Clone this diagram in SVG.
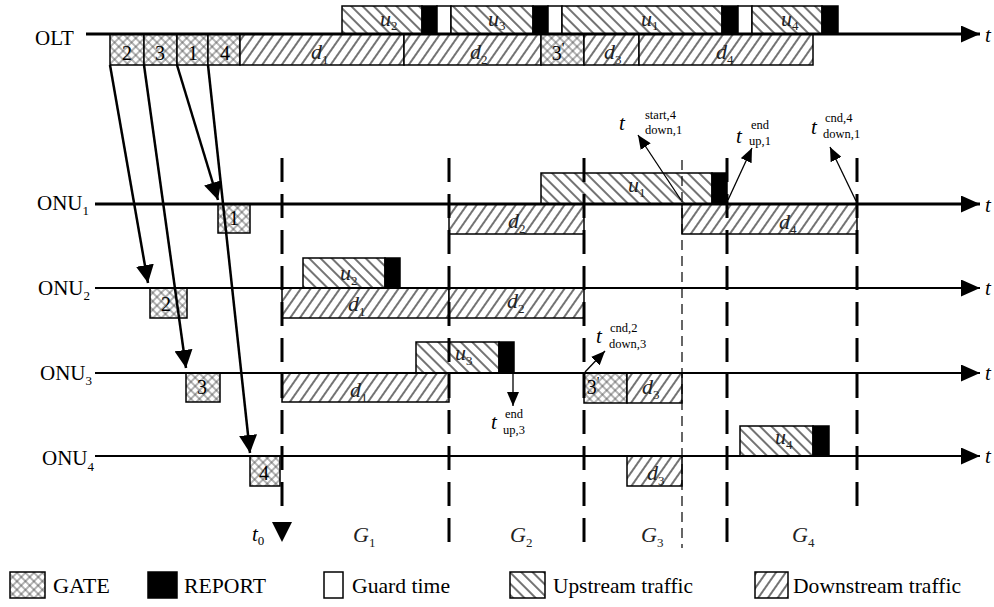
<svg xmlns="http://www.w3.org/2000/svg" width="994" height="607" viewBox="0 0 994 607">
<style>
.b{stroke:#000;stroke-width:1.5}
.up{fill:url(#up)}
.dn{fill:url(#dn)}
.gt{fill:url(#gate)}
.rp{fill:#000}
.gd{fill:#fff}
.ax{stroke:#000;fill:none}
text{font-family:"Liberation Serif","Times New Roman",serif;fill:#000}
.lab{font-size:21px}
.num{font-size:20px;text-anchor:middle}
.it{font-style:italic;font-size:22px;fill:#222}
.sub{font-style:normal;font-size:13px}
.t{font-style:italic;font-size:21px}
.ss{font-size:12.5px}
.leg{font-size:21px}
.pr{font-size:15px}
.dash{stroke:#000;stroke-width:3;stroke-dasharray:24 12;fill:none}
.thin{stroke:#000;stroke-width:1.2;stroke-dasharray:10 6;fill:none}
.ga{stroke:#000;stroke-width:2.5;fill:none;marker-end:url(#big)}
.ta{stroke:#000;stroke-width:1.3;fill:none;marker-end:url(#sm)}
</style>
<defs>
<pattern id="up" patternUnits="userSpaceOnUse" width="8" height="8" patternTransform="rotate(-45)"><rect width="8" height="8" fill="#fff"/><line x1="4" y1="0" x2="4" y2="8" stroke="#000" stroke-width="1.1"/></pattern>
<pattern id="dn" patternUnits="userSpaceOnUse" width="8" height="8" patternTransform="rotate(35)"><rect width="8" height="8" fill="#fff"/><line x1="4" y1="0" x2="4" y2="8" stroke="#000" stroke-width="1.1"/></pattern>
<pattern id="gate" patternUnits="userSpaceOnUse" width="6" height="6" patternTransform="rotate(45)"><rect width="6" height="6" fill="#fff"/><line x1="3" y1="0" x2="3" y2="6" stroke="#444" stroke-width="0.8"/><line x1="0" y1="3" x2="6" y2="3" stroke="#444" stroke-width="0.8"/></pattern>
<marker id="axa" markerUnits="userSpaceOnUse" markerWidth="19" markerHeight="17" refX="19" refY="8.5" orient="auto"><path d="M0,0 L19,8.5 L0,17 z" fill="#000"/></marker>
<marker id="big" markerUnits="userSpaceOnUse" markerWidth="18" markerHeight="18" refX="18" refY="9" orient="auto"><path d="M0,0 L18,9 L0,18 z" fill="#000"/></marker>
<marker id="sm" markerUnits="userSpaceOnUse" markerWidth="14" markerHeight="12" refX="14" refY="6" orient="auto"><path d="M0,0 L14,6 L0,12 z" fill="#000"/></marker>
</defs>
<rect width="994" height="607" fill="#fff"/>

<g id="olt">
<rect class="b up" x="342" y="6" width="80" height="28"/>
<rect class="b rp" x="422" y="6" width="15" height="28"/>
<rect class="b gd" x="437" y="6" width="14" height="28"/>
<rect class="b up" x="451" y="6" width="82" height="28"/>
<rect class="b rp" x="533" y="6" width="15" height="28"/>
<rect class="b gd" x="548" y="6" width="14" height="28"/>
<rect class="b up" x="562" y="6" width="160" height="28"/>
<rect class="b rp" x="722" y="6" width="16" height="28"/>
<rect class="b gd" x="738" y="6" width="14" height="28"/>
<rect class="b up" x="752" y="6" width="70" height="28"/>
<rect class="b rp" x="822" y="6" width="16" height="28"/>
<rect class="b gt" x="110" y="34" width="34" height="31"/>
<rect class="b gt" x="144" y="34" width="33" height="31"/>
<rect class="b gt" x="177" y="34" width="31" height="31"/>
<rect class="b gt" x="208" y="34" width="32" height="31"/>
<rect class="b dn" x="240" y="34" width="164" height="31"/>
<rect class="b dn" x="404" y="34" width="137" height="31"/>
<rect class="b gt" x="541" y="34" width="43" height="31"/>
<rect class="b dn" x="584" y="34" width="55" height="31"/>
<rect class="b dn" x="639" y="34" width="174" height="31"/>
<line class="ax" x1="86" y1="34" x2="980" y2="34" stroke-width="3" marker-end="url(#axa)"/>
<text class="num" x="127" y="60">2</text>
<text class="num" x="160" y="60">3</text>
<text class="num" x="193" y="60">1</text>
<text class="num" x="225" y="60">4</text>
<text class="it" x="380" y="26">u<tspan class="sub" dy="4">2</tspan></text>
<text class="it" x="488" y="26">u<tspan class="sub" dy="4">3</tspan></text>
<text class="it" x="641" y="26">u<tspan class="sub" dy="4">1</tspan></text>
<text class="it" x="781" y="26">u<tspan class="sub" dy="4">4</tspan></text>
<text class="it" x="311" y="59">d<tspan class="sub" dy="5">1</tspan></text>
<text class="it" x="470" y="59">d<tspan class="sub" dy="5">2</tspan></text>
<text class="num" x="558" y="60" text-anchor="start">3<tspan class="pr" dy="-7">'</tspan></text>
<text class="it" x="604" y="59">d<tspan class="sub" dy="5">3</tspan></text>
<text class="it" x="716" y="59">d<tspan class="sub" dy="5">4</tspan></text>
<text class="lab" x="35" y="45">OLT</text>
<text class="t" x="985" y="42">t</text>
</g>

<g id="onu1">
<rect class="b up" x="541" y="173" width="171" height="31"/>
<rect class="b rp" x="712" y="173" width="15" height="31"/>
<rect class="b gt" x="218" y="204" width="32" height="29"/>
<rect class="b dn" x="449" y="204" width="135" height="30"/>
<rect class="b dn" x="682" y="204" width="175" height="30"/>
<line class="ax" x1="95" y1="204" x2="980" y2="204" stroke-width="3" marker-end="url(#axa)"/>
<text class="num" x="234" y="225">1</text>
<text class="it" x="628" y="192">u<tspan class="sub" dy="5">1</tspan></text>
<text class="it" x="508" y="228">d<tspan class="sub" dy="5">2</tspan></text>
<text class="it" x="779" y="229">d<tspan class="sub" dy="5">4</tspan></text>
<text class="lab" x="37" y="210">ONU<tspan class="sub" dy="5">1</tspan></text>
<text class="t" x="985" y="212">t</text>
</g>

<g id="onu2">
<rect class="b up" x="303" y="258" width="82" height="30"/>
<rect class="b rp" x="385" y="258" width="15" height="30"/>
<rect class="b gt" x="150" y="288" width="37" height="30"/>
<rect class="b dn" x="282" y="288" width="167" height="30"/>
<rect class="b dn" x="449" y="288" width="135" height="30"/>
<line class="ax" x1="95" y1="288" x2="980" y2="288" stroke-width="2" marker-end="url(#axa)"/>
<text class="num" x="166" y="311">2</text>
<text class="it" x="340" y="280">u<tspan class="sub" dy="5">2</tspan></text>
<text class="it" x="348" y="311">d<tspan class="sub" dy="5">1</tspan></text>
<text class="it" x="507" y="308">d<tspan class="sub" dy="5">2</tspan></text>
<text class="lab" x="38" y="295">ONU<tspan class="sub" dy="5">2</tspan></text>
<text class="t" x="985" y="295">t</text>
</g>

<g id="onu3">
<rect class="b up" x="416" y="342" width="83" height="31"/>
<rect class="b rp" x="499" y="342" width="15" height="31"/>
<rect class="b gt" x="186" y="373" width="34" height="29"/>
<rect class="b dn" x="282" y="373" width="167" height="29"/>
<rect class="b gt" x="584" y="373" width="43" height="30"/>
<rect class="b dn" x="627" y="373" width="55" height="30"/>
<line class="ax" x1="95" y1="373" x2="980" y2="373" stroke-width="2" marker-end="url(#axa)"/>
<text class="num" x="202" y="394">3</text>
<text class="it" x="455" y="360">u<tspan class="sub" dy="5">3</tspan></text>
<text class="it" x="350" y="397">d<tspan class="sub" dy="5">1</tspan></text>
<text class="num" x="593" y="394" text-anchor="start">3<tspan class="pr" dy="-7">'</tspan></text>
<text class="it" x="642" y="394">d<tspan class="sub" dy="5">3</tspan></text>
<text class="lab" x="40" y="380">ONU<tspan class="sub" dy="5">3</tspan></text>
<text class="t" x="985" y="380">t</text>
</g>

<g id="onu4">
<rect class="b up" x="740" y="426" width="73" height="30"/>
<rect class="b rp" x="813" y="426" width="16" height="30"/>
<rect class="b gt" x="250" y="456" width="30" height="30"/>
<rect class="b dn" x="627" y="456" width="55" height="30"/>
<line class="ax" x1="95" y1="456" x2="980" y2="456" stroke-width="2" marker-end="url(#axa)"/>
<text class="num" x="264" y="480">4</text>
<text class="it" x="647" y="480">d<tspan class="sub" dy="5">3</tspan></text>
<text class="it" x="775" y="444">u<tspan class="sub" dy="5">4</tspan></text>
<text class="lab" x="42" y="465">ONU<tspan class="sub" dy="6">4</tspan></text>
<text class="t" x="985" y="463">t</text>
</g>

<g id="connectors">
<line class="dash" x1="282" y1="158" x2="282" y2="518"/>
<line class="dash" x1="449" y1="158" x2="449" y2="548"/>
<line class="dash" x1="584" y1="158" x2="584" y2="542"/>
<line class="thin" x1="682" y1="160" x2="682" y2="548"/>
<line class="dash" x1="727" y1="158" x2="727" y2="548"/>
<line class="dash" x1="857" y1="158" x2="857" y2="512"/>
<polygon points="272,522 292,522 282,542" fill="#000"/>
<line class="ga" x1="110" y1="65" x2="148" y2="283"/>
<line class="ga" x1="144" y1="65" x2="186" y2="368"/>
<line class="ga" x1="177" y1="65" x2="218" y2="200"/>
<line class="ga" x1="208" y1="65" x2="250" y2="453"/>
<line class="ta" x1="681" y1="200" x2="638" y2="135"/>
<line class="ta" x1="728" y1="200" x2="752" y2="148"/>
<line class="ta" x1="856" y1="201" x2="830" y2="147"/>
<line class="ta" x1="585" y1="372" x2="605" y2="351"/>
<line class="ta" x1="513" y1="373" x2="513" y2="406"/>
</g>

<g id="labels">
<text class="t" x="619" y="130">t</text><text class="ss" x="645" y="119">start,4</text><text class="ss" x="645" y="134">down,1</text>
<text class="t" x="736" y="143">t</text><text class="ss" x="751" y="129">end</text><text class="ss" x="749" y="145">up,1</text>
<text class="t" x="811" y="134">t</text><text class="ss" x="825" y="122">cnd,4</text><text class="ss" x="823" y="138">down,1</text>
<text class="t" x="596" y="343">t</text><text class="ss" x="610" y="332">cnd,2</text><text class="ss" x="609" y="348">down,3</text>
<text class="t" x="491" y="429">t</text><text class="ss" x="505" y="418">end</text><text class="ss" x="503" y="434">up,3</text>
<text class="t" x="252" y="541">t<tspan class="sub" dy="4">0</tspan></text>
<text class="it" x="353" y="542">G<tspan class="sub" dy="5">1</tspan></text>
<text class="it" x="510" y="542">G<tspan class="sub" dy="5">2</tspan></text>
<text class="it" x="641" y="542">G<tspan class="sub" dy="5">3</tspan></text>
<text class="it" x="792" y="542">G<tspan class="sub" dy="5">4</tspan></text>
</g>

<g id="legend">
<rect class="b gt" x="10" y="572" width="35" height="26"/>
<text class="leg" x="53" y="593" textLength="57" lengthAdjust="spacingAndGlyphs">GATE</text>
<rect class="b rp" x="148" y="572" width="29" height="26"/>
<text class="leg" x="184" y="593" textLength="82" lengthAdjust="spacingAndGlyphs">REPORT</text>
<rect class="b gd" x="324" y="572" width="19" height="26"/>
<text class="leg" x="352" y="593" textLength="98" lengthAdjust="spacingAndGlyphs">Guard time</text>
<rect class="b up" x="510" y="572" width="35" height="26"/>
<text class="leg" x="553" y="593" textLength="140" lengthAdjust="spacingAndGlyphs">Upstream traffic</text>
<rect class="b dn" x="755" y="572" width="33" height="26"/>
<text class="leg" x="793" y="593" textLength="168" lengthAdjust="spacingAndGlyphs">Downstream traffic</text>
</g>
</svg>
